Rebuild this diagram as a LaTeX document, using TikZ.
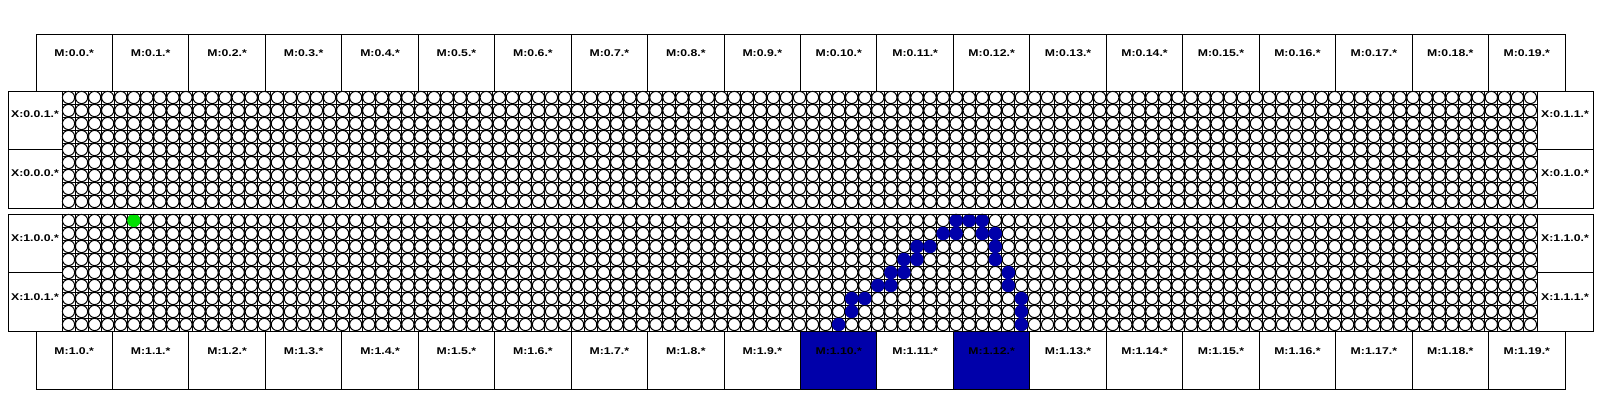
\documentclass[tikz,border=0pt]{standalone}
\usepackage{fontspec}
\setmainfont{Liberation Sans}
\newfontfamily\lblfont[FakeStretch=1.25]{Liberation Sans Bold}
\definecolor{netblue}{RGB}{0,0,170}
\definecolor{srcgreen}{RGB}{0,224,0}

\begin{document}
\begin{tikzpicture}[x=1pt, y=-1pt,
  lbl/.style={font=\lblfont\fontsize{9.8}{10}\selectfont, inner sep=0pt},
  frame/.style={draw, line width=1pt},
  gridline/.style={draw, line width=1pt},
  pin/.style={draw, fill=white, line width=1pt},
  hot/.style={fill=netblue}]
\useasboundingbox (0,0) rectangle (1600,400);
% M boxes, top and bottom
\foreach \i in {10,12} \fill[netblue] ({36+76.45*\i},331) rectangle ++(76.45,58);
\foreach \i in {0,...,19}{
  \draw[frame] ({36+76.45*\i},34) rectangle ++(76.45,57);
  \draw[frame] ({36+76.45*\i},331) rectangle ++(76.45,58);
  \node[lbl] (mt\i) at ({36+76.45*(\i+0.5)},53) {M:0.\i.*};
  \node[lbl] (mb\i) at ({36+76.45*(\i+0.5)},351) {M:1.\i.*};
}
% grid lines of both strips
\foreach \y in {91,214}{
  \foreach \c in {0,...,113} \draw[gridline] ({62+13.053*\c},\y) -- ++(0,117);
  \foreach \r in {0,...,9} \draw[gridline] (62,{\y+13*\r}) -- (1537,{\y+13*\r});
}
% wire nodes
\foreach \c in {0,...,112}{
  \foreach \r in {0,...,8}{
    \draw[pin] ({62+13.053*(\c+0.5)},{91+13*(\r+0.5)}) circle[radius=6.1];
    \draw[pin] ({62+13.053*(\c+0.5)},{214+13*(\r+0.5)}) circle[radius=6.1];
  }
}
% routed net
\foreach \c/\r in {68/0,69/0,70/0,67/1,68/1,70/1,71/1,65/2,66/2,71/2,
                   64/3,65/3,71/3,63/4,64/4,72/4,62/5,63/5,72/5,
                   60/6,61/6,73/6,60/7,73/7,59/8,73/8}
  \fill[hot] ({62+13.053*(\c+0.5)},{214+13*(\r+0.5)}) circle[radius=6.7];
\fill[srcgreen] ({62+13.053*5.5},{214+6.5}) circle[radius=6.6];
% strip frames and X boxes
\foreach \y in {91,214}{
  \draw[frame] (8,\y) rectangle (1593,\y+117);
  \draw[frame] (62,\y) -- ++(0,117);
  \draw[frame] (1537,\y) -- ++(0,117);
  \draw[frame] (8,\y+58.5) -- ++(54,0);
  \draw[frame] (1537,\y+58.5) -- ++(56,0);
}
\node[lbl] (xl01) at (35,114) {X:0.0.1.*};
\node[lbl] (xl00) at (35,173) {X:0.0.0.*};
\node[lbl] (xl10) at (35,238) {X:1.0.0.*};
\node[lbl] (xl11) at (35,297) {X:1.0.1.*};
\node[lbl] (xr01) at (1565,114) {X:0.1.1.*};
\node[lbl] (xr00) at (1565,173) {X:0.1.0.*};
\node[lbl] (xr10) at (1565,238) {X:1.1.0.*};
\node[lbl] (xr11) at (1565,297) {X:1.1.1.*};
\end{tikzpicture}
\end{document}
